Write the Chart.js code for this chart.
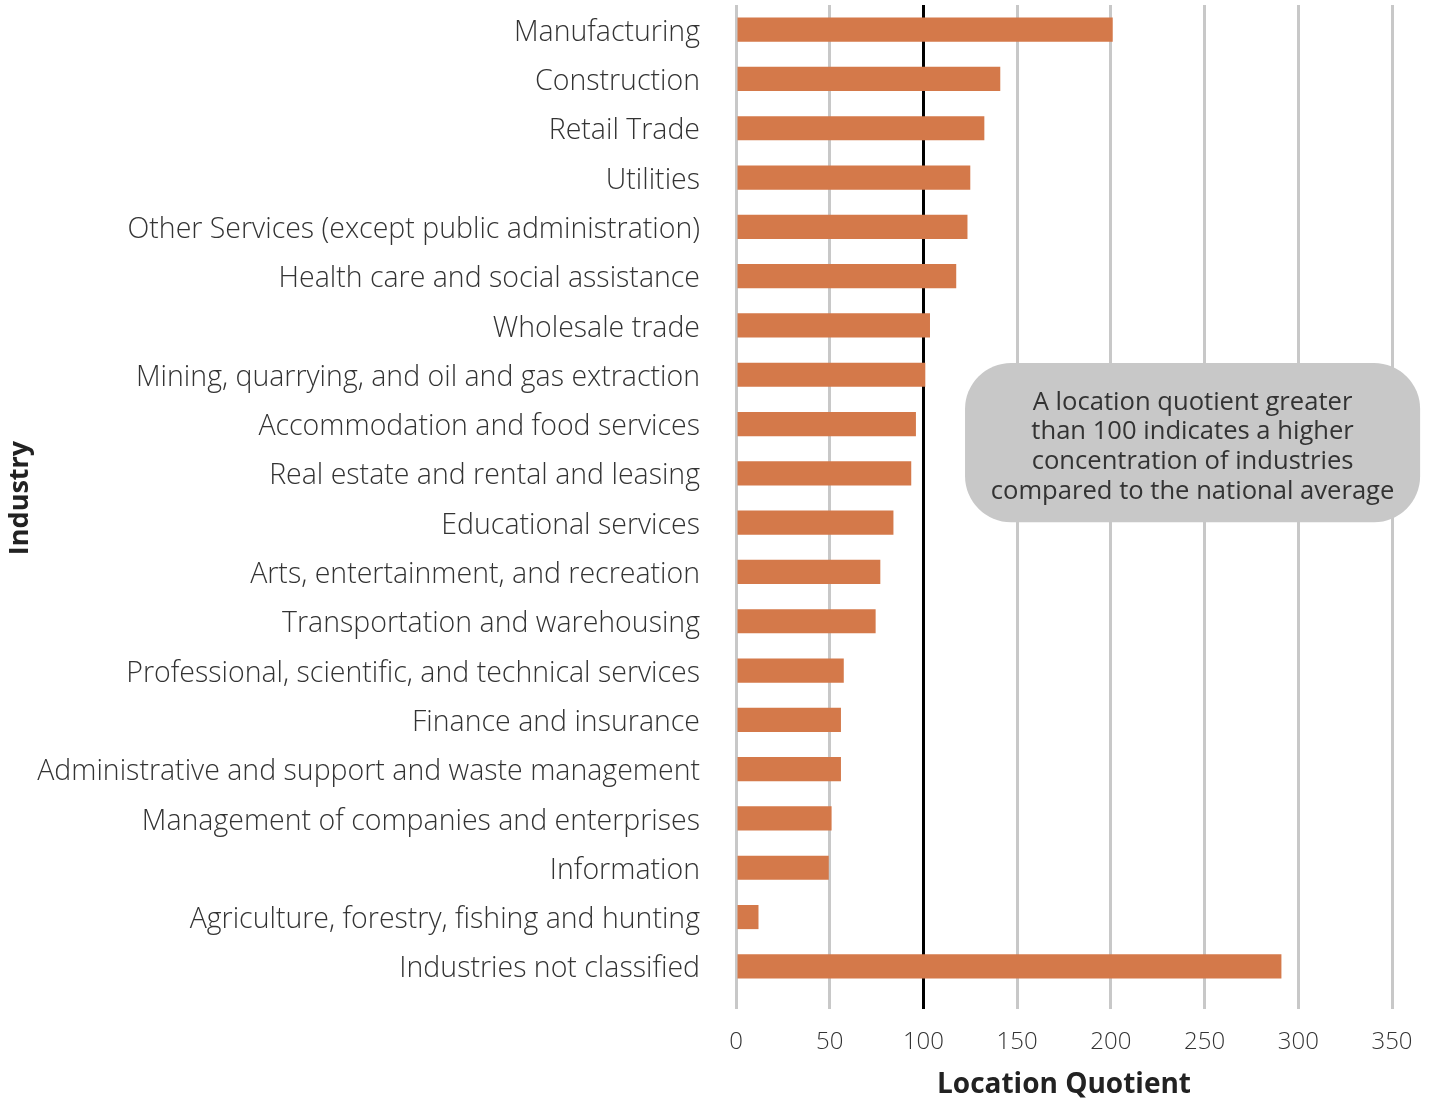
<!DOCTYPE html>
<html>
<head>
<meta charset="utf-8">
<script src="https://cdn.jsdelivr.net/npm/chart.js@4"></script>
<style>
  html, body { margin: 0; padding: 0; background: #fff; }
  #wrap { width: 1432px; height: 1098px; }
</style>
</head>
<body>
<div id="wrap"><canvas id="chart"></canvas></div>
<script>
const industries = [
  'Manufacturing',
  'Construction',
  'Retail Trade',
  'Utilities',
  'Other Services (except public administration)',
  'Health care and social assistance',
  'Wholesale trade',
  'Mining, quarrying, and oil and gas extraction',
  'Accommodation and food services',
  'Real estate and rental and leasing',
  'Educational services',
  'Arts, entertainment, and recreation',
  'Transportation and warehousing',
  'Professional, scientific, and technical services',
  'Finance and insurance',
  'Administrative and support and waste management',
  'Management of companies and enterprises',
  'Information',
  'Agriculture, forestry, fishing and hunting',
  'Industries not classified'
];
const quotients = [201, 141, 132.5, 125, 123.5, 117.5, 103.5, 101, 96, 93.5, 84, 77, 74.5, 57.5, 56, 56, 51, 49.5, 12, 291];
const noteLines = [
  'A location quotient greater',
  'than 100 indicates a higher',
  'concentration of industries',
  'compared to the national average'
];

const textColor = '#333333';
const gridGray = '#c8c8c8';

// grey rounded note box on the right
const noteBox = {
  id: 'noteBox',
  afterDraw(chart) {
    const c = chart.ctx;
    const xs = chart.scales.x, ys = chart.scales.y;
    const left = xs.getPixelForValue(122.2);
    const right = xs.getPixelForValue(365);
    const top = ys.getPixelForValue(6.76);
    const bottom = ys.getPixelForValue(9.99);
    c.save();
    c.fillStyle = gridGray;
    c.beginPath();
    c.roundRect(left, top, right - left, bottom - top, 46);
    c.fill();
    c.fillStyle = textColor;
    c.font = '25.6px "Open Sans"';
    c.textAlign = 'center';
    c.textBaseline = 'middle';
    const cx = (left + right) / 2;
    const step = 29.7;
    const mid = (top + bottom) / 2 + 4.5;
    noteLines.forEach((t, i) => {
      c.fillText(t, cx, mid + (i - (noteLines.length - 1) / 2) * step);
    });
    c.restore();
  }
};

new Chart(document.getElementById('chart'), {
  type: 'bar',
  data: {
    labels: industries,
    datasets: [{
      data: quotients,
      backgroundColor: '#d4794a',
      borderWidth: 0,
      categoryPercentage: 1,
      barPercentage: 0.49
    }]
  },
  options: {
    indexAxis: 'y',
    responsive: true,
    maintainAspectRatio: false,
    animation: false,
    layout: { padding: { top: 5, right: 40, left: 0, bottom: 0 } },
    plugins: {
      legend: { display: false },
      tooltip: { enabled: false }
    },
    scales: {
      x: {
        min: 0,
        max: 350,
        ticks: {
          stepSize: 50,
          color: textColor,
          font: { family: 'Open Sans', size: 24, weight: 300 },
          padding: 19
        },
        grid: {
          color: ctx => ctx.tick && ctx.tick.value === 100 ? '#000000' : gridGray,
          lineWidth: 3,
          tickLength: 18,
          drawTicks: true
        },
        border: { display: false },
        title: {
          display: true,
          text: 'Location Quotient',
          color: '#222',
          font: { family: 'Open Sans', size: 28, weight: 'bold' },
          padding: { top: 0, bottom: -4 }
        },
        afterFit: s => { s.height = 107; }
      },
      y: {
        ticks: {
          color: textColor,
          font: { family: 'Open Sans', size: 28.5, weight: 300 },
          padding: 36,
          labelOffset: 3
        },
        grid: { display: false, drawTicks: false },
        border: { display: false },
        title: {
          display: true,
          text: 'Industry',
          color: '#222',
          font: { family: 'Open Sans', size: 27, weight: 'bold' },
          padding: { top: 4, bottom: 0 }
        },
        afterFit: s => {
          s.width = 736;
          s.paddingTop = 0;
          s.paddingBottom = 0;
        }
      }
    }
  },
  plugins: [noteBox]
});
</script>
</body>
</html>
